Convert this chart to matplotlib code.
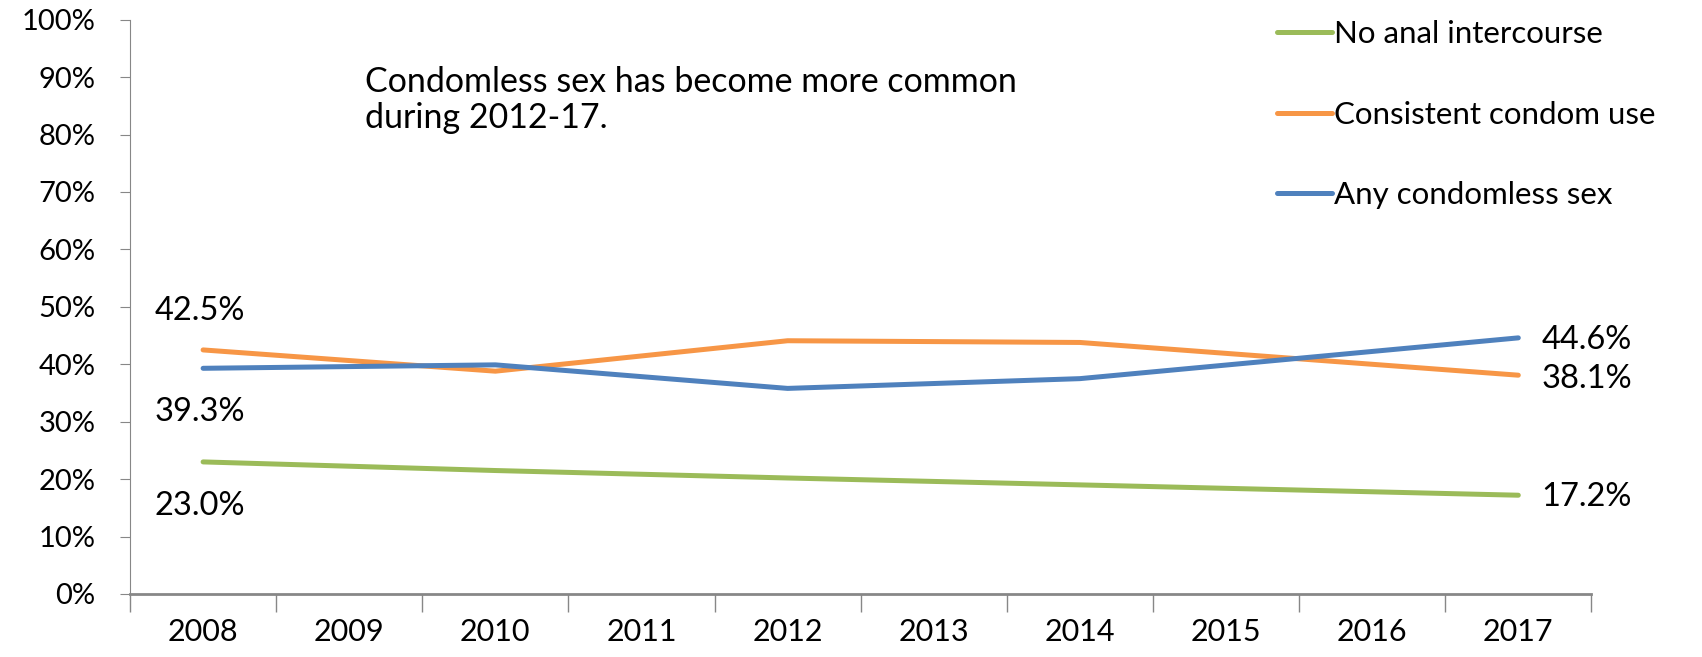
import matplotlib
matplotlib.use("Agg")
import matplotlib.pyplot as plt
from matplotlib.ticker import FixedLocator, PercentFormatter

plt.rcParams['font.family'] = ['Lato', 'DejaVu Sans']

# categorias do eixo x
anos = ['2008', '2009', '2010', '2011', '2012', '2013', '2014', '2015', '2016', '2017']
# anos com dados (posição no eixo)
anos_dados = ['2008', '2010', '2012', '2014', '2017']

no_anal = [23.0, 21.5, 20.2, 19.0, 17.2]
consistente = [42.5, 38.8, 44.1, 43.8, 38.1]
sem_camisinha = [39.3, 39.9, 35.8, 37.5, 44.6]

verde = '#9BBB59'
laranja = '#F79646'
azul = '#4F81BD'

x = [anos.index(a) for a in anos_dados]

fig = plt.figure(figsize=(17.02, 6.57), dpi=100)
ax = fig.add_axes([0.0764, 0.0959, 0.8586, 0.8741])

ax.plot(x, no_anal, color=verde, lw=3.6, solid_capstyle='round', label='No anal intercourse')
ax.plot(x, consistente, color=laranja, lw=3.6, solid_capstyle='round', label='Consistent condom use')
ax.plot(x, sem_camisinha, color=azul, lw=3.6, solid_capstyle='round', label='Any condomless sex')

ax.set_xlim(-0.5, len(anos) - 0.5)
ax.set_ylim(0, 100)

# ticks do eixo x nas fronteiras das categorias
ax.xaxis.set_major_locator(FixedLocator([i - 0.5 for i in range(len(anos) + 1)]))
ax.xaxis.set_minor_locator(FixedLocator(range(len(anos))))
ax.set_xticklabels([], minor=False)
ax.set_xticklabels(anos, minor=True, fontsize=22)
ax.tick_params(axis='x', which='major', length=13, color='#878787', width=1)
ax.tick_params(axis='x', which='minor', length=0, pad=17)

ax.set_yticks(range(0, 101, 10))
ax.yaxis.set_major_formatter(PercentFormatter(decimals=0))
ax.tick_params(axis='y', length=7, color='#878787', labelsize=21, pad=18)

for lado in ['top', 'right']:
    ax.spines[lado].set_visible(False)
ax.spines['left'].set_color('#878787')
ax.spines['bottom'].set_color('#878787')
ax.spines['bottom'].set_linewidth(2)

# rótulos dos valores
fs = 23.5
ax.text(-0.33, consistente[0] + 6.8, f"{consistente[0]:.1f}%", fontsize=fs, va='center')
ax.text(-0.33, sem_camisinha[0] - 7.6, f"{sem_camisinha[0]:.1f}%", fontsize=fs, va='center')
ax.text(-0.33, no_anal[0] - 7.7, f"{no_anal[0]:.1f}%", fontsize=fs, va='center')
ax.text(9.16, sem_camisinha[-1] - 0.3, f"{sem_camisinha[-1]:.1f}%", fontsize=fs, va='center')
ax.text(9.16, consistente[-1] - 0.7, f"{consistente[-1]:.1f}%", fontsize=fs, va='center')
ax.text(9.16, no_anal[-1] - 0.3, f"{no_anal[-1]:.1f}%", fontsize=fs, va='center')

ax.text(1.11, 92.0, "Condomless sex has become more common\nduring 2012-17.", fontsize=24.5,
        va='top', linespacing=1.15)

fig.legend(loc='upper left', bbox_to_anchor=(0.734, 1.012), frameon=False, fontsize=22.5,
           handlelength=1.75, handletextpad=0.05, labelspacing=1.68)

plt.savefig("out.png")
